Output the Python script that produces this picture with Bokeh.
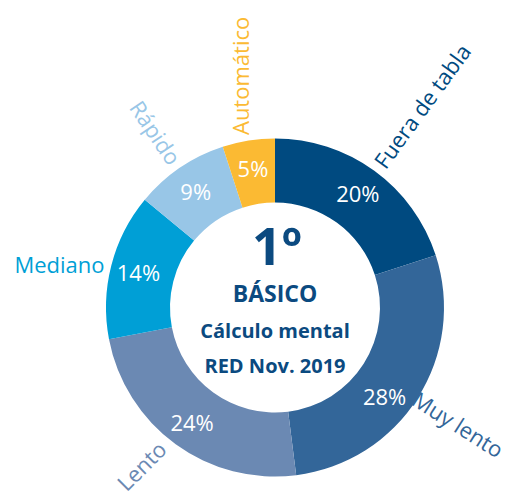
import math
from bokeh.plotting import figure
from bokeh.models import Range1d, ColumnDataSource
from bokeh.core.properties import value
from bokeh.embed import file_html
from bokeh.resources import INLINE

# ---- data ----
categories = ["Fuera de tabla", "Muy lento", "Lento", "Mediano", "Rápido", "Automático"]
shares = [20, 28, 24, 14, 9, 5]
pct_labels = ["20%", "28%", "24%", "14%", "9%", "5%"]
center_title = "1º"
center_lines = ["BÁSICO", "Cálculo mental", "RED Nov. 2019"]

# ---- styles ----
colors = ["#004a80", "#336699", "#6b89b3", "#009fd6", "#98c6e7", "#fbba33"]
TEXT_DARK = "#0b4a80"
FONT = "Open Sans"
W, H = 510, 497
CX, CY = 274.5, 307.0       # donut centre in figure pixels (from top-left)
R_OUT, R_IN = 169, 105
R_PCT, R_LAB = 141, 176
# per-label layout tweaks: rotation (deg), alignment, radius, position angle (deg)
label_tweak = {
    "Mediano": dict(rot=0.0, align="right"),
    "Automático": dict(rot=90.0, align="left", pos=101.5),
    "Lento": dict(rot=45.0, align="right", r=178, pos=230.5),
    "Muy lento": dict(r=166),
}
pct_tweak = {1: -39.0}   # position angle (deg) for the 2nd percentage label

p = figure(width=W, height=H, output_backend="svg", toolbar_location=None,
           x_range=Range1d(-CX, W - CX), y_range=Range1d(CY - H, CY),
           min_border=0)
p.axis.visible = False
p.grid.visible = False
p.outline_line_color = None
p.background_fill_color = "white"

total = float(sum(shares))
starts, ends, mids = [], [], []
cum = 0.0
for s in shares:
    a0 = math.pi / 2 - 2 * math.pi * cum / total
    cum += s
    a1 = math.pi / 2 - 2 * math.pi * cum / total
    starts.append(a0)
    ends.append(a1)
    mids.append((a0 + a1) / 2)

src = ColumnDataSource(dict(start=starts, end=ends, color=colors))
p.annular_wedge(x=0, y=0, inner_radius=R_IN, outer_radius=R_OUT,
                start_angle="start", end_angle="end", direction="clock",
                fill_color="color", line_color=None, source=src)

# percentage labels
pa = [math.radians(pct_tweak[i]) if i in pct_tweak else m for i, m in enumerate(mids)]
px = [R_PCT * math.cos(a) for a in pa]
py = [R_PCT * math.sin(a) for a in pa]
p.text(x=px, y=py, text=pct_labels, text_color="white",
       text_font=value(FONT), text_font_size="22px",
       text_align="center", text_baseline="middle")

# category labels outside the ring
for cat, m, col in zip(categories, mids, colors):
    tw = label_tweak.get(cat, {})
    pos = math.radians(tw["pos"]) if "pos" in tw else m
    r = tw.get("r", R_LAB)
    lx, ly = r * math.cos(pos), r * math.sin(pos)
    if "rot" in tw:
        ang, align = math.radians(tw["rot"]), tw["align"]
    elif math.cos(m) >= 0:
        ang, align = m, "left"
    else:
        ang, align = m + math.pi, "right"
    p.text(x=[lx], y=[ly], text=[cat], angle=ang, text_color=col,
           text_font=value(FONT), text_font_size="22px",
           text_align=align, text_baseline="middle")

# centre texts
p.text(x=[2], y=[63], text=[center_title], text_color=TEXT_DARK,
       text_font=value(FONT), text_font_style="bold", text_font_size="52px",
       text_align="center", text_baseline="middle")
line_y = [15, -23, -58]
line_sizes = ["23px", "20px", "20px"]
for t, yy, fs in zip(center_lines, line_y, line_sizes):
    p.text(x=[0], y=[yy], text=[t], text_color=TEXT_DARK,
           text_font=value(FONT), text_font_style="bold", text_font_size=fs,
           text_align="center", text_baseline="middle")

open("out.html", "w").write(file_html(p, INLINE))
